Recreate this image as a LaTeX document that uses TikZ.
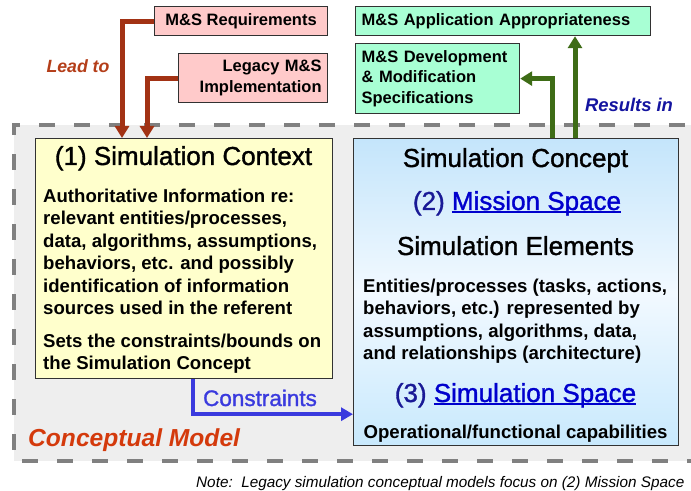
\documentclass[tikz,border=0pt]{standalone}
\usepackage{fontspec}
\setmainfont{Liberation Sans}
\newfontfamily\titlefont{Liberation Sans}[FakeBold=1.3]
\usetikzlibrary{arrows.meta}
\definecolor{redarrow}{RGB}{162,50,20}
\definecolor{leadcol}{RGB}{180,62,25}
\definecolor{greenarrow}{RGB}{62,108,22}
\definecolor{conblue}{RGB}{58,58,222}
\definecolor{navy}{RGB}{25,25,150}
\definecolor{linkblue}{RGB}{0,0,205}
\definecolor{resblue}{RGB}{20,20,160}
\definecolor{cmred}{RGB}{212,58,12}
\definecolor{pinkfill}{RGB}{255,202,202}
\definecolor{greenfill}{RGB}{168,255,212}
\definecolor{yellowfill}{RGB}{255,255,204}
\definecolor{cmfill}{RGB}{238,238,238}
\definecolor{dashgray}{RGB}{128,128,128}
\definecolor{boxline}{RGB}{50,50,50}
\definecolor{bluetop}{RGB}{196,229,251}
\definecolor{bluemid}{RGB}{242,249,255}
\definecolor{bluebot}{RGB}{200,233,253}
\newsavebox\ulbox
\newcommand{\ulink}[1]{\sbox\ulbox{#1}\rlap{\rule[-2.8bp]{\wd\ulbox}{1.5bp}}\usebox\ulbox}
\begin{document}
\begin{tikzpicture}[x=1bp,y=-1bp,
  smallbox/.style={draw=boxline, line width=1.2bp, inner sep=0pt, anchor=north west,
     font=\fontsize{16.5bp}{20.3bp}\selectfont\bfseries},
  pinkbox/.style={smallbox, fill=pinkfill},
  greenbox/.style={smallbox, fill=greenfill},
  bigbox/.style={draw=boxline, line width=1.2bp, inner sep=0pt, anchor=north west},
  titletxt/.style={inner sep=0pt, font=\fontsize{26bp}{30bp}\titlefont},
  bodytxt/.style={inner sep=0pt, align=left, font=\fontsize{18.6bp}{22.5bp}\selectfont\bfseries},
  redarr/.style={draw=redarrow, line width=5bp, -{Triangle[width=14bp,length=12bp]}},
  greenarr/.style={draw=greenarrow, line width=5bp, -{Triangle[width=14bp,length=12bp]}},
  bluearr/.style={draw=conblue, line width=4bp, -{Triangle[width=13bp,length=12bp]}},
  cmdash/.style={draw=dashgray, line width=4bp, dash pattern=on 16bp off 19bp}
]
\useasboundingbox (0,0) rectangle (691,491);
\clip (0,0) rectangle (691,491);
\fill[white] (0,0) rectangle (691,491);
% conceptual model region
\fill[cmfill] (14,125) rectangle (720,461);
\draw[cmdash] (720,125) -- (14,125) -- (14,461) -- (720,461);

% boxes
\node[bigbox, fill=yellowfill, minimum width=297bp, minimum height=240bp] (ctx) at (35,138) {};
\node[bigbox, top color=bluetop, bottom color=bluebot, middle color=bluemid, minimum width=325bp, minimum height=307bp] (concept) at (353,138) {};
\node[pinkbox, minimum width=173bp, minimum height=29bp, align=center] (req) at (154,6) {M\&S Requirements};
\node[pinkbox, minimum width=149bp, minimum height=49bp, text width=137bp, align=right] (leg) at (178,53) {Legacy M\&S\\Implementation};
\node[greenbox, minimum width=295bp, minimum height=29bp, text width=283bp, align=left] (app) at (355,6) {M\&S Application Appropriateness};
\node[greenbox, minimum width=164bp, minimum height=70bp, text width=152bp, align=left] (dev) at (355,43) {M\&S Development\\\& Modification\\Specifications};

% texts in simulation context
\node[titletxt, anchor=base] (ctxtitle) at (183.5,165) {(1) Simulation Context};
\node[bodytxt, anchor=north west] (ctxbody) at (43,188.5) {Authoritative Information re:\\relevant entities/processes,\\data, algorithms, assumptions,\\behaviors, etc. and possibly\\identification of information\\sources used in the referent};
\node[bodytxt, anchor=north west] (ctxbounds) at (43,333.5) {Sets the constraints/bounds on\\the Simulation Concept};

% texts in simulation concept
\node[titletxt, anchor=base] (cctitle) at (515.5,167) {Simulation Concept};
\node[titletxt, anchor=base, text=navy] (ms) at (517,210) {(2) \textcolor{linkblue}{\ulink{Mission Space}}};
\node[titletxt, anchor=base] (se) at (515.5,255) {Simulation Elements};
\node[bodytxt, anchor=north west] (entities) at (363,278.5) {Entities/processes (tasks, actions,\\behaviors, etc.) represented by\\assumptions, algorithms, data,\\and relationships (architecture)};
\node[titletxt, anchor=base, text=navy] (ss) at (515.5,402) {(3) \textcolor{linkblue}{\ulink{Simulation Space}}};
\node[bodytxt, anchor=base] (opcap) at (515.5,438) {Operational/functional capabilities};

% arrows
\draw[redarr] (req.west) -| ([xshift=87bp]ctx.north west);
\draw[redarr] (leg.west) -| ([xshift=112bp]ctx.north west);
\draw[greenarr] ([xshift=199bp]concept.north west) |- (dev.east);
\draw[greenarr] ([xshift=222bp]concept.north west) -- ([xshift=222bp]concept.north west |- app.south);
\draw[bluearr] ([xshift=158bp]ctx.south west) |- ([yshift=32bp]concept.south west);

% labels
\node[inner sep=0pt, anchor=base, text=leadcol, font=\fontsize{17.7bp}{20bp}\selectfont\bfseries\itshape] (lead) at (78,73) {Lead to};
\node[inner sep=0pt, anchor=base, text=resblue, font=\fontsize{18.4bp}{20bp}\selectfont\bfseries\itshape] (results) at (629,111.5) {Results in};
\node[inner sep=0pt, anchor=base, text=conblue, font=\fontsize{22.5bp}{26bp}\titlefont] (constraints) at (260,406) {Constraints};
\node[inner sep=0pt, anchor=base west, text=cmred, font=\fontsize{24.6bp}{28bp}\selectfont\bfseries\itshape] (cm) at (28,446) {Conceptual Model};
\node[inner sep=0pt, anchor=base west, font=\fontsize{15.3bp}{18bp}\selectfont\itshape] (note) at (196,487) {Note:\ \ Legacy simulation conceptual models focus on (2) Mission Space};
\end{tikzpicture}
\end{document}
